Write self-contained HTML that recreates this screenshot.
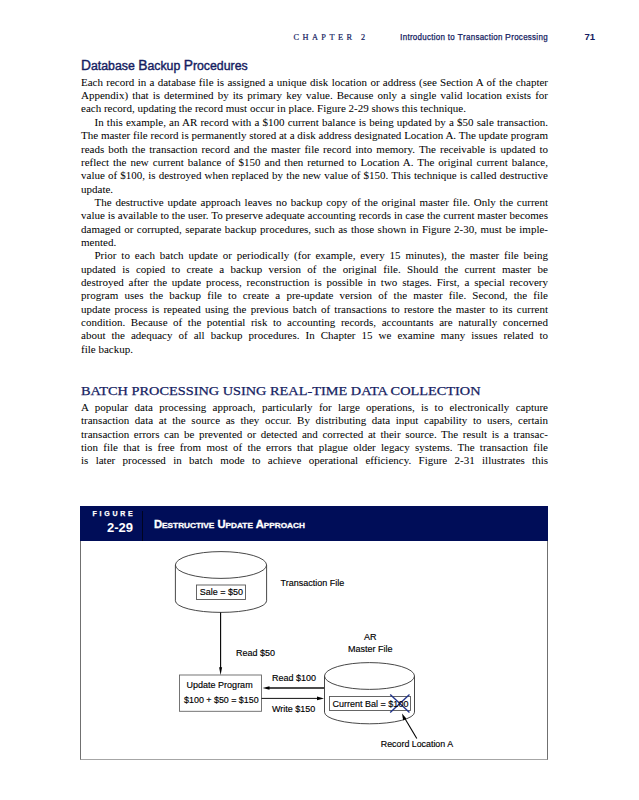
<!DOCTYPE html>
<html><head><meta charset="utf-8">
<style>
html,body{margin:0;padding:0;background:#fff;}
body{width:639px;height:800px;position:relative;overflow:hidden;}
.a{position:absolute;white-space:nowrap;}
.hdr{font-family:"Liberation Sans",sans-serif;color:#151d62;}
.ser{font-family:"Liberation Serif",serif;}
.body{position:absolute;left:81px;width:467px;font-family:"Liberation Serif",serif;font-size:11px;line-height:13.35px;color:#000;}
.body div{height:13.35px;white-space:nowrap;overflow:visible;}
.j{text-align:justify;text-align-last:justify;white-space:normal !important;word-spacing:-1px;}
.in{text-indent:13.5px;}
.fig{position:absolute;left:80px;top:506px;width:466px;height:253px;border:1px solid #707070;border-bottom-color:#a6a6a6;border-top:none;}
.bar{position:absolute;left:80px;top:505.5px;width:467.6px;height:35.2px;background:#000d58;}
.dg{font-family:"Liberation Sans",sans-serif;font-size:9px;color:#000;-webkit-text-stroke:0.15px #000;}
</style></head>
<body>
<!-- running header -->
<div class="a ser" style="left:293.5px;top:33.2px;font-size:8.3px;letter-spacing:3.45px;color:#151d62;-webkit-text-stroke:0.2px #151d62;">CHAPTER 2</div>
<div class="a hdr" style="left:400.3px;top:30.5px;font-size:8.4px;line-height:12px;letter-spacing:0.3px;transform:scaleX(0.95);transform-origin:0 0;-webkit-text-stroke:0.25px #151d62;"><span style="font-size:9.2px">I</span>ntroduction to <span style="font-size:9.2px">T</span>ransaction <span style="font-size:9.2px">P</span>rocessing</div>
<div class="a hdr" style="left:584.5px;top:30.5px;font-size:9.6px;font-weight:bold;">71</div>

<div class="a hdr" style="left:80.6px;top:57.1px;font-size:12.5px;line-height:16px;transform:scaleX(0.985);transform-origin:0 0;-webkit-text-stroke:0.4px #151d62;"><span style="font-size:14px">D</span>atabase <span style="font-size:14px">B</span>ackup <span style="font-size:14px">P</span>rocedures</div>

<div class="body" style="top:75.8px;">
<div class="j">Each record in a database file is assigned a unique disk location or address (see Section A of the chapter</div>
<div class="j">Appendix) that is determined by its primary key value. Because only a single valid location exists for</div>
<div>each record, updating the record must occur in place. Figure 2-29 shows this technique.</div>
<div class="j in">In this example, an AR record with a $100 current balance is being updated by a $50 sale transaction.</div>
<div class="j">The master file record is permanently stored at a disk address designated Location A. The update program</div>
<div class="j">reads both the transaction record and the master file record into memory. The receivable is updated to</div>
<div class="j">reflect the new current balance of $150 and then returned to Location A. The original current balance,</div>
<div class="j">value of $100, is destroyed when replaced by the new value of $150. This technique is called destructive</div>
<div>update.</div>
<div class="j in">The destructive update approach leaves no backup copy of the original master file. Only the current</div>
<div class="j">value is available to the user. To preserve adequate accounting records in case the current master becomes</div>
<div class="j">damaged or corrupted, separate backup procedures, such as those shown in Figure 2-30, must be imple-</div>
<div>mented.</div>
<div class="j in">Prior to each batch update or periodically (for example, every 15 minutes), the master file being</div>
<div class="j">updated is copied to create a backup version of the original file. Should the current master be</div>
<div class="j">destroyed after the update process, reconstruction is possible in two stages. First, a special recovery</div>
<div class="j">program uses the backup file to create a pre-update version of the master file. Second, the file</div>
<div class="j">update process is repeated using the previous batch of transactions to restore the master to its current</div>
<div class="j">condition. Because of the potential risk to accounting records, accountants are naturally concerned</div>
<div class="j">about the adequacy of all backup procedures. In Chapter 15 we examine many issues related to</div>
<div>file backup.</div>
</div>

<div class="a ser" style="left:81px;top:384px;font-size:12.7px;letter-spacing:0px;transform:scaleX(1.129);transform-origin:0 0;color:#151d62;-webkit-text-stroke:0.25px #151d62;">BATCH PROCESSING USING REAL-TIME DATA COLLECTION</div>

<div class="body" style="top:401.1px;">
<div class="j">A popular data processing approach, particularly for large operations, is to electronically capture</div>
<div class="j">transaction data at the source as they occur. By distributing data input capability to users, certain</div>
<div class="j">transaction errors can be prevented or detected and corrected at their source. The result is a transac-</div>
<div class="j">tion file that is free from most of the errors that plague older legacy systems. The transaction file</div>
<div class="j">is later processed in batch mode to achieve operational efficiency. Figure 2-31 illustrates this</div>
</div>

<!-- figure -->
<div class="fig"></div>
<div class="bar"></div>

<svg class="a" style="left:0;top:0" width="639" height="800" viewBox="0 0 639 800">
<g fill="none" stroke="#333" stroke-width="0.9">
<!-- cylinder 1 -->
<path d="M175.4 565 L175.4 600.8 A45.6 11.6 0 0 0 266.6 600.8 L266.6 565" fill="#fff"/>
<ellipse cx="221" cy="565" rx="45.6" ry="13.4" fill="#fff"/>
<rect x="196.5" y="585" width="49" height="14.5" stroke="#555"/>
<!-- vertical arrow -->
<line x1="220.6" y1="612.4" x2="220.6" y2="668" stroke="#000" stroke-width="1.1"/>
<!-- update program box -->
<rect x="179.5" y="675" width="82" height="36.3" stroke="#666"/>
<!-- read arrow -->
<line x1="268" y1="688" x2="324.5" y2="688" stroke="#111" stroke-width="1.6"/>
<!-- write arrow -->
<line x1="261.5" y1="698.4" x2="318" y2="698.4" stroke="#111" stroke-width="1"/>
<!-- cylinder 2 -->
<path d="M324.5 676 L324.5 712.2 A45 11.6 0 0 0 414.5 712.2 L414.5 676" fill="#fff"/>
<ellipse cx="369.5" cy="676" rx="45" ry="13.4" fill="#fff"/>
<rect x="329.5" y="696.5" width="81" height="14" stroke="#555"/>
<!-- pointer -->
<line x1="404" y1="717" x2="416.8" y2="738.5" stroke="#000" stroke-width="1.1"/>
</g>
<g fill="#000" stroke="none">
<path d="M219.1 667.2 L222.1 667.2 L220.6 675 Z"/>
<path d="M262.6 688 L269.5 686.2 L269.5 689.8 Z"/>
<path d="M324 698.4 L317 696.6 L317 700.2 Z"/>
<path d="M402 713.6 L406.3 718.6 L403.2 720.4 Z"/>
</g>
<g stroke="#22348a" stroke-width="1.35" fill="none">
<line x1="390.2" y1="694.4" x2="409.5" y2="712.6"/>
<line x1="409.5" y1="694.4" x2="390.2" y2="712.6"/>
</g>
</svg>
<div class="a dg" style="left:280.5px;top:577.6px;">Transaction File</div>
<div class="a dg" style="left:199.7px;top:587.3px;">Sale = $50</div>
<div class="a dg" style="left:236px;top:648px;">Read $50</div>
<div class="a dg" style="left:186.6px;top:680px;">Update Program</div>
<div class="a dg" style="left:184.1px;top:695.2px;font-size:8.9px;">$100 + $50 = $150</div>
<div class="a dg" style="left:272px;top:673px;">Read $100</div>
<div class="a dg" style="left:272px;top:704px;">Write $150</div>
<div class="a dg" style="left:364px;top:632px;">AR</div>
<div class="a dg" style="left:348px;top:644px;">Master File</div>
<div class="a dg" style="left:332.6px;top:698.6px;">Current Bal = $100</div>
<div class="a dg" style="left:380.8px;top:739.2px;font-size:8.85px;">Record Location A</div>
<!-- figure header -->
<div class="a" style="left:92.5px;top:510.2px;font-family:'Liberation Sans',sans-serif;font-weight:bold;font-size:7px;letter-spacing:2.75px;color:#fff;-webkit-text-stroke:0.25px #fff;">FIGURE</div>
<div class="a" style="left:107px;top:520.3px;font-family:'Liberation Sans',sans-serif;font-weight:bold;font-size:13px;color:#fff;">2-29</div>
<div class="a" style="left:142px;top:511px;width:1px;height:30px;background:#000520;"></div>
<div class="a" style="left:153.5px;top:519.3px;font-family:'Liberation Sans',sans-serif;font-weight:bold;font-size:10.2px;color:#fff;transform:scaleX(1.1);transform-origin:0 0;-webkit-text-stroke:0.3px #fff;">D<span style="font-size:7.5px">ESTRUCTIVE</span> U<span style="font-size:7.5px">PDATE</span> A<span style="font-size:7.5px">PPROACH</span></div>
</body></html>
